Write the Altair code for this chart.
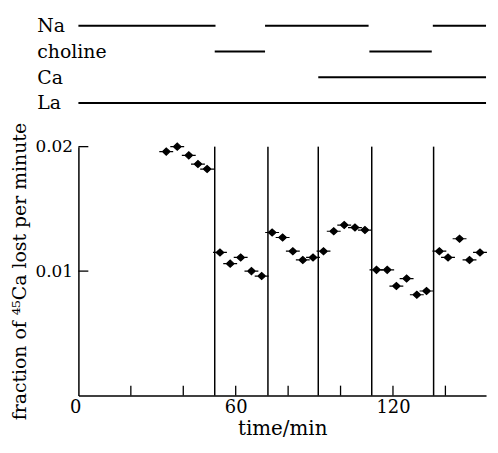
import altair as alt
import pandas as pd

FONT = "DejaVu Serif"
XMAX = 155.5

# condition bars (top panel)
bar_cond = ["Na", "Na", "Na", "choline", "choline", "Ca", "La"]
bar_start = [0, 71.2, 135.2, 52, 111, 91.5, 0]
bar_end = [52.3, 110.7, XMAX, 71.2, 134.8, XMAX, XMAX]
conditions = ["Na", "choline", "Ca", "La"]

# data points
times = [33.5, 37.7, 42.1, 45.6, 49.1,
         54.0, 57.9, 61.9, 66.0, 69.9,
         73.9, 77.9, 81.8, 85.6, 89.5,
         93.5, 97.4, 101.4, 105.5, 109.3,
         113.7, 117.8, 121.3, 125.2, 129.1, 132.8,
         137.7, 141.0, 145.4, 149.2, 153.2]
values = [0.0196, 0.0200, 0.0193, 0.0186, 0.0182,
          0.0115, 0.0106, 0.0111, 0.0100, 0.0096,
          0.0131, 0.0127, 0.0116, 0.0109, 0.0111,
          0.0116, 0.0132, 0.0137, 0.0135, 0.0133,
          0.0101, 0.0101, 0.0088, 0.0094, 0.0081, 0.0084,
          0.0116, 0.0111, 0.0126, 0.0109, 0.0115]

# solution change lines
change_times = [52, 72.3, 91.5, 111.9, 135.5]
x_ticks = [20, 40, 60, 80, 100, 120, 140]
y_ticks = [0.01, 0.02]

xscale = alt.Scale(domain=[0, XMAX], nice=False, zero=False)
yscale = alt.Scale(domain=[0, 0.02], nice=False)

bars = pd.DataFrame({"cond": bar_cond, "start": bar_start, "end": bar_end})
top = alt.Chart(bars).mark_rule(strokeWidth=2, color="black").encode(
    x=alt.X("start:Q", scale=xscale, axis=None),
    x2="end:Q",
    y=alt.Y("cond:N", sort=conditions,
            scale=alt.Scale(type="point", padding=0.5, domain=conditions),
            axis=alt.Axis(title=None, domain=False, ticks=False, grid=False,
                          labelAlign="left", labelPadding=42, labelFont=FONT,
                          labelFontSize=19, labelColor="black",
                          labelBaseline="middle")),
).properties(width=411, height=104)

pts = pd.DataFrame({"t": times, "f": values})
marker = "M-0.55,0L0,-0.5L0.55,0L0,0.5Z M-1,0L1,0"

xaxis = alt.Axis(values=[0, 60, 120], ticks=False, grid=False, domainColor="black",
                 domainWidth=1.5, labelFont=FONT, labelFontSize=18, labelColor="black",
                 labelPadding=3,
                 labelOffset={"condition": {"test": "datum.value === 0", "value": -9}, "value": 0},
                 title="time/min", titleFont=FONT, titleFontSize=20,
                 titleFontWeight="normal", titleColor="black", titlePadding=2)
yaxis = alt.Axis(values=y_ticks, format=".2f", ticks=False, grid=False,
                 domainColor="black", domainWidth=1.5, labelFont=FONT,
                 labelFontSize=17, labelColor="black", labelPadding=6,
                 title="fraction of \u2074\u2075Ca lost per minute", titleFont=FONT,
                 titleFontSize=19, titleFontWeight="normal", titleColor="black",
                 titlePadding=6)

points = alt.Chart(pts).mark_point(shape=marker, filled=True, fill="black",
                                   stroke="black", strokeWidth=1.2, size=196,
                                   opacity=1).encode(
    x=alt.X("t:Q", scale=xscale, axis=xaxis),
    y=alt.Y("f:Q", scale=yscale, axis=yaxis),
)

vl = alt.Chart(pd.DataFrame({"t": change_times})).mark_rule(
    color="black", strokeWidth=1.5).encode(
    x=alt.X("t:Q", scale=xscale),
    y=alt.datum(0.02),
    y2=alt.datum(0),
)

xt = alt.Chart(pd.DataFrame({"t": x_ticks})).mark_tick(
    orient="vertical", size=10, thickness=1.3, yOffset=-5, color="black", opacity=1).encode(
    x=alt.X("t:Q", scale=xscale),
    y=alt.datum(0),
)

yt = alt.Chart(pd.DataFrame({"v": y_ticks})).mark_tick(
    orient="horizontal", size=10, thickness=1.3, xOffset=5, color="black", opacity=1).encode(
    x=alt.datum(0),
    y=alt.Y("v:Q", scale=yscale),
)

bottom = alt.layer(vl, xt, yt, points).properties(width=411, height=251)

chart = alt.vconcat(top, bottom, spacing=31, bounds="flush").properties(
    padding={"left": 2, "top": 3, "right": 0, "bottom": 0}
).configure(background="white").configure_view(stroke=None)

chart.save("out.html", embed_options={"renderer": "svg", "actions": False})
